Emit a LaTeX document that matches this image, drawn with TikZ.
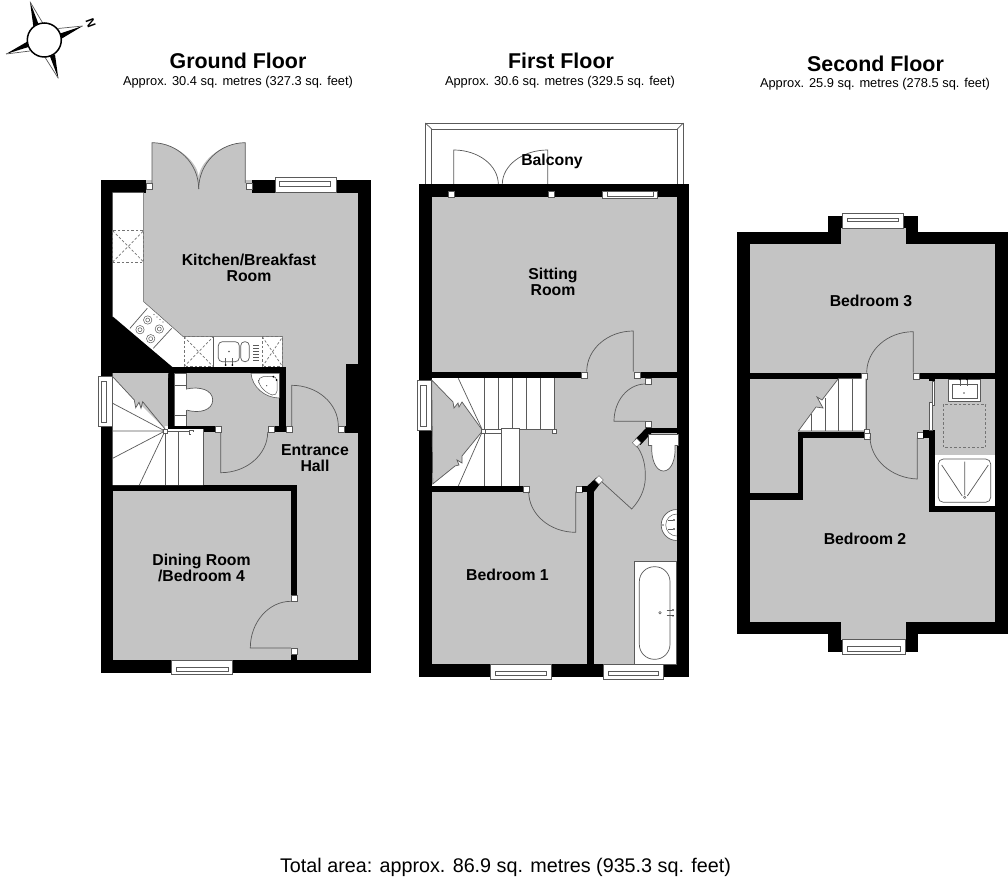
\documentclass[tikz,border=0pt]{standalone}
\usepackage{fontspec}
\setmainfont{Liberation Sans}
\usetikzlibrary{calc}
\definecolor{roomgrey}{HTML}{C4C4C4}
\definecolor{edgeln}{HTML}{5A5A5A}
\tikzset{
  ln/.style={draw=edgeln,line width=.7pt},
  dashln/.style={draw=edgeln!85,line width=.7pt,dash pattern=on 2.5pt off 2pt},
  fix/.style={fill=white,draw=edgeln,line width=.7pt},
  ttl/.style={font=\bfseries\fontsize{21.4}{23}\selectfont,anchor=center,inner sep=0pt},
  subt/.style={font=\fontsize{12.85}{14}\selectfont,anchor=center,inner sep=0pt},
  lab/.style={font=\bfseries\fontsize{15.8}{16}\selectfont,anchor=center,align=center,inner sep=0pt},
}
\newcommand\wl[4]{\fill[black] (#1,#2) rectangle (#3,#4);}
\newcommand\rmb[4]{\fill[roomgrey] (#1,#2) rectangle (#3,#4);}
\newcommand\pst[2]{\filldraw[fill=white,draw=edgeln,line width=.4pt] (#1,#2) rectangle ++(6,6);}
\newcommand\door[6]{\draw[ln] (#1,#2) -- (#3,#4) .. controls ($(#3,#4)+.5523*(#5,#6)-.5523*(#1,#2)$) and ($(#5,#6)+.5523*(#3,#4)-.5523*(#1,#2)$) .. (#5,#6);}
\newcommand\win[8]{\filldraw[fix] (#1,#2) rectangle (#3,#4); \draw[ln] (#5,#6) rectangle (#7,#8);}
\newcommand\dsq[4]{\draw[dashln] (#1,#2) rectangle (#3,#4); \draw[dashln] (#1,#2) -- (#3,#4) (#1,#4) -- (#3,#2);}
\begin{document}
\begin{tikzpicture}[x=1pt,y=-1pt]
\useasboundingbox (0,0) rectangle (1008,880);
\fill[white] (0,0) rectangle (1008,880);
% ---- compass
\fill[black] (30,1.7) -- (33.3,26) -- (38.5,24) -- cycle;
\draw[ln] (30,1.7) -- (42.7,23);
\fill[black] (82.7,26) -- (61,39) -- (60,33.5) -- cycle;
\draw[ln] (82.7,26) -- (58.3,28.5);
\fill[black] (6,54) -- (27.5,41.5) -- (28.5,47) -- cycle;
\draw[ln] (6,54) -- (30,51);
\fill[black] (58.3,78.3) -- (50,56.5) -- (55,54.5) -- cycle;
\draw[ln] (58.3,78.3) -- (45,57.3);
\filldraw[fill=white,draw=black,line width=1.5pt] (44.3,40) circle (17);
\node[rotate=-70,font=\bfseries\fontsize{12}{12}\selectfont,inner sep=0pt] (north) at (90.7,23) {N};
% ---- titles
\node[ttl] (t1) at (238,61) {Ground Floor};
\node[subt] (s1) at (238,82.5) {Approx. 30.4 sq. metres (327.3 sq. feet)};
\node[ttl] (t2) at (561,61) {First Floor};
\node[subt] (s2) at (560,82.5) {Approx. 30.6 sq. metres (329.5 sq. feet)};
\node[ttl] (t3) at (875.5,63.5) {Second Floor};
\node[subt] (s3) at (875,84.5) {Approx. 25.9 sq. metres (278.5 sq. feet)};
\node[font=\fontsize{19.75}{21}\selectfont,inner sep=0pt] (tot) at (505.5,867) {Total area: approx. 86.9 sq. metres (935.3 sq. feet)};
%
% ======== GROUND FLOOR
\wl{100.5}{180}{370.5}{672.7}
\rmb{112.7}{192.7}{358}{660}
\rmb{146}{180}{251.7}{193}
% french doors
\path[fill=roomgrey] (152,193) -- (152,142.7) .. controls (177.8,142.7) and (198.7,163.4) .. (198.7,178) .. controls (198.7,163.4) and (219.6,142.7) .. (245.3,142.7) -- (245.3,193) -- cycle;
\draw[ln] (152,183) -- (152,142.7) .. controls (177.8,142.7) and (198.7,163.4) .. (198.7,189);
\draw[ln] (245.3,183) -- (245.3,142.7) .. controls (219.6,142.7) and (198.7,163.4) .. (198.7,189);
\pst{146}{183}\pst{245.7}{183}
\win{275}{177.7}{336}{192.5}{279.3}{181.7}{330.7}{186.7}
% kitchen counter
\filldraw[fill=white,draw=edgeln,line width=.5pt] (112.7,192.7) -- (143.7,192.7) -- (143.7,301.7) -- (183.3,336.7) -- (282.7,336.7) -- (282.7,367.5) -- (172,367.5) -- (112.7,316.7) -- cycle;
\fill[black] (112.7,316.7) -- (172.3,367) -- (172.3,373.3) -- (112.7,373.3) -- cycle;
\dsq{112.7}{230.7}{143.7}{262}
\dsq{184}{336.7}{213.3}{366.7}
\dsq{262.3}{336.7}{282.7}{366.7}
\draw[ln] (213.3,336.7) -- (213.3,366.7);
% hob
\draw[ln] (130,328.3) -- (147.3,308.3) (171.7,328.3) -- (153.3,348.3);
\foreach \cx/\cy in {147.7/320,140/329.7,159.3/329,150.7/338.7}{
  \draw[ln,line width=.5pt] (\cx,\cy) circle (4.2) (\cx,\cy) circle (2);}
\foreach \cx/\cy in {154/314.5,157/317,160/319.5,163/322}{\fill[edgeln] (\cx,\cy) circle (.6);}
% sink
\draw[ln,rounded corners=4pt] (218.3,341.7) rectangle (239.3,361.7);
\draw[ln,rounded corners=4pt] (240.7,341.7) rectangle (249.3,361.7);
\foreach \yy in {345,348,351,354,357,360}{\draw[ln,line width=.4pt] (253,\yy) -- (259,\yy);}
\fill[edgeln] (229,351.5) circle (.8);
\foreach \xx in {225.7,232.3}{\draw[ln,line width=.8pt] (\xx,358) -- (\xx,364); \fill[black] (\xx,365) circle (1);}
% walls
\wl{168.3}{367.3}{285.7}{373.3}
\wl{168.3}{367.3}{174.3}{432.5}
\wl{279.3}{367.3}{285.7}{432}
\wl{174}{426}{215}{432}
\wl{273}{426}{286}{432}
\wl{346}{364.3}{358.5}{432.5}
\wl{344}{426}{346}{432.5}
\wl{112}{485}{297.3}{491}
\wl{291}{485}{297.3}{596}
\wl{291}{653}{297.3}{661}
\pst{215}{426}\pst{267.7}{426}\pst{285.7}{426}\pst{338.3}{426}
\pst{291}{595.3}\pst{291}{648}
\door{220.7}{432}{220.7}{472.7}{267.7}{432}
\door{291.7}{426}{291.7}{385.3}{338.3}{426}
\door{291}{648}{250.3}{648}{291}{601.3}
% wc
\filldraw[fix] (174.5,373.5) rectangle (186.3,426);
\draw[ln] (174.5,385) -- (186.3,385) (174.5,415) -- (186.3,415);
\filldraw[fix] (186.3,389) .. controls (200,386) and (212.7,390) .. (212.7,400) .. controls (212.7,410) and (200,414) .. (186.3,410);
\fill[white] (183,390) rectangle (187,409.5);
% corner basin
\filldraw[fill=white,draw=edgeln,line width=.6pt] (251,373.3) .. controls (252,387) and (265,398) .. (279.3,398) -- (279.3,373.3) -- cycle;
\draw[ln,line width=.5pt,rounded corners=5pt] (258,377) -- (277,376) -- (277,396) -- (268,394) -- (259,385) -- cycle;
\fill[black] (273.3,376.7) circle (1) (276.7,380) circle (1);
\fill[edgeln] (266.7,385.7) circle (.7);
% stairs
\fill[white] (112.7,376.7) -- (165,429) -- (203.3,429) -- (203.3,485) -- (112.7,485) -- cycle;
\fill[white] (112.7,426) -- (168,426) -- (168,432) -- (112.7,432) -- cycle;
\path[fill=roomgrey] (112.7,376.7) -- (134.3,400) -- (135.7,407.7) -- (139,402.3) -- (141,408.3) -- (142.7,401.7) -- (165,429) -- (168.3,373) -- (112.7,373) -- cycle;
\draw[ln] (112.7,376.7) -- (134.3,400) -- (135.7,407.7) -- (139,402.3) -- (141,408.3) -- (142.7,401.7) -- (165,429);
\draw[ln] (165,431) -- (112.7,403.3) (165,431) -- (112.7,431) (165,431) -- (112.7,458.3) (165,431) -- (139.3,485);
\draw[ln] (165.7,432) -- (165.7,485) (178.3,432) -- (178.3,485) (191,432) -- (191,485) (203.3,430) -- (203.3,485);
\draw[ln] (165,431) -- (191,431);
\filldraw[fix,line width=.4pt] (163.5,429) rectangle (167.5,433.5);
\filldraw[fix,line width=.4pt] (189,430) rectangle (193,434);
\fill[white] (191.4,432.4) rectangle (202.9,485);
\wl{174}{426}{215}{429}
\win{98.3}{376.7}{112.7}{426.7}{101}{381}{106}{422}
\win{171.7}{660}{232.7}{674}{176}{667.3}{228.3}{671.7}
\node[lab] (kit) at (249,268) {Kitchen/Breakfast\\Room};
\node[lab] (hall) at (315,458) {Entrance\\Hall};
\node[lab] (din) at (201.5,567.5) {Dining Room\\/Bedroom 4};
%
% ======== FIRST FLOOR
\draw[ln] (425.3,184.3) -- (425.3,123) -- (683.3,123) -- (683.3,184.3);
\draw[ln] (431.7,184.3) -- (431.7,129) -- (677.3,129) -- (677.3,184.3);
\draw[ln] (425.3,123) -- (431.7,129) (683.3,123) -- (677.3,129);
\door{453.7}{184.3}{453.7}{150}{498.3}{184.3}
\door{547.7}{184.3}{547.7}{150}{502.3}{184.3}
\wl{419}{184.3}{689.3}{676.7}
\rmb{431.7}{196.7}{676.7}{664}
\pst{448}{190.7}\pst{547.7}{190.7}
\win{602.3}{191}{657.7}{198}{607}{191}{653}{196.5}
% stairs
\fill[white] (431.7,377.7) rectangle (554,429.5);
\fill[white] (431.7,429) rectangle (519,486);
\path[fill=roomgrey,draw=edgeln,line width=.7pt] (431.7,380) -- (453,402) -- (454,408) -- (458,403) -- (459,407) -- (462,402) -- (482.7,430.7) -- (462,456) -- (462,463) -- (457,460) -- (459,465) -- (455,466) -- (432.7,484) -- cycle;
\draw[ln] (482.7,430.7) -- (458.3,378.3) (482.7,430.7) -- (458.3,486);
\foreach \xx in {484,498,512,526,540,554}{\draw[ln] (\xx,378) -- (\xx,429.3);}
\foreach \xx in {484,501.7,519}{\draw[ln] (\xx,430) -- (\xx,486);}
\draw[ln] (484,429.3) -- (554,429.3) (484,433) -- (501,433);
\filldraw[fix,line width=.4pt] (481.5,429.5) rectangle (485.5,433.5);
\filldraw[fix,line width=.4pt] (551.7,429) rectangle (556,433.3);
\filldraw[fix,line width=.5pt] (501.7,428.3) rectangle (519,486);
% walls
\wl{431}{371.7}{580.7}{377.7}
\wl{639.7}{371.7}{677}{377.7}
\pst{580.7}{371.7}\pst{633.7}{371.7}
\door{633.3}{371.7}{633.3}{331}{586.7}{371.7}
\wl{431}{486}{522.7}{491.7}
\pst{522.7}{485.7}\pst{575.7}{485.7}
\wl{581.7}{486}{594}{491.7}
\wl{587.3}{486}{594}{665}
\door{575.7}{491.7}{575.7}{532.3}{528.7}{491.7}
\pst{645.3}{377.7}\pst{645.3}{421.3}
\door{645.3}{421.3}{614}{421.3}{645.3}{384}
\wl{646.7}{427.5}{677}{433.3}
\fill[black] (587.3,490) -- (587.3,486) -- (596.5,477.5) -- (601,482.5) -- (594,491.7) -- cycle;
\filldraw[fill=white,draw=edgeln,line width=.4pt] (599,475.7) -- (603.3,480) -- (599,484.3) -- (594.7,480) -- cycle;
\fill[black] (646.7,427.5) -- (651.3,433.3) -- (640.5,445) -- (634.8,439.5) -- cycle;
\filldraw[fill=white,draw=edgeln,line width=.4pt] (636.7,438.4) -- (641,442.7) -- (636.7,447) -- (632.4,442.7) -- cycle;
\draw[ln] (601.7,481.7) -- (631.7,509) .. controls (642,498) and (646,486) .. (645.3,473.3) .. controls (645,462) and (642,453) .. (636.7,446);
% bathroom
\filldraw[fix] (648,434) -- (678,434) -- (678,445) -- (648,445) -- cycle;
\filldraw[fix] (651.7,445) .. controls (651,460) and (656,471) .. (663.5,471) .. controls (671,471) and (676,460) .. (675,445);
\filldraw[fix] (676.7,509.5) arc[start angle=270,end angle=90,x radius=15.5,y radius=15.5];
\draw[ln,line width=.5pt] (676.7,514) arc[start angle=270,end angle=90,x radius=11,y radius=11];
\foreach \yy in {520,529}{\draw[ln,line width=.8pt] (668,\yy) -- (673,\yy); \fill[black] (674,\yy) circle (.9);}
\fill[edgeln] (663,525) circle (.8);
\filldraw[fix] (634,561.7) rectangle (676.7,664);
\draw[ln,rounded corners=15pt] (639.3,566.7) rectangle (670,659.3);
\draw[ln,line width=.5pt] (660,612.7) circle (1.3);
\foreach \yy in {610,615.7}{\draw[ln,line width=.8pt] (666.5,\yy) -- (672,\yy); \fill[black] (673,\yy) circle (.9);}
\win{490}{664}{551.7}{679.3}{495}{671.7}{546.7}{675}
\win{603.3}{664}{663.3}{679.3}{608}{671.7}{658.5}{675}
\win{417.3}{380.7}{431.7}{430}{420.5}{385}{426}{426}
\node[lab] (bal) at (552,161.5) {Balcony};
\node[lab] (sit) at (553,281.5) {Sitting\\Room};
\node[lab] (bed1) at (507.5,574.5) {Bedroom 1};
%
% ======== SECOND FLOOR
\wl{737.3}{231.7}{1007.7}{634.3}
\wl{828.3}{215.7}{918.3}{231.7}
\wl{828.3}{634}{918.3}{652.3}
\rmb{750}{244.3}{995}{622}
\rmb{840.7}{228}{906}{245}
\rmb{840.7}{621}{906}{640}
\win{842.7}{213.3}{903.3}{228.3}{847}{218}{898.5}{221.5}
\win{842.7}{639.3}{905}{654.3}{847}{646}{900}{651}
\wl{750}{372.7}{860.7}{378.7}
\wl{919.3}{372.7}{996}{378.7}
\pst{860.7}{372.7}\pst{913.3}{372.7}
\door{913.3}{372.7}{913.3}{331.7}{866.7}{372.7}
% stairs
\path[fill=white,draw=edgeln,line width=.7pt] (838.3,378.7) -- (822,400) -- (817,397) -- (823,408) -- (816,407) -- (798.3,431) -- (866,431) -- (866,378.7);
\foreach \xx/\yt in {838.7/378.7,852.3/378.7,866/378.7,825/398,811/414}{\draw[ln] (\xx,\yt) -- (\xx,431);}
\wl{797.7}{431.5}{864.5}{437.7}
\wl{797.7}{431.5}{803.3}{500}
\wl{750}{493.3}{803.3}{500}
\filldraw[fill=white,draw=edgeln,line width=.4pt] (864.3,429) rectangle (869,433.5);
\pst{864.5}{432.7}
\door{917.3}{438.3}{917.3}{479}{870}{436.7}
\pst{917.3}{432.3}
\wl{923.3}{430}{934.7}{438.3}
\wl{928.7}{430}{934.7}{512.3}
\wl{928.7}{506}{996}{512.3}
\wl{928.7}{378.5}{934.7}{381}
\filldraw[fill=white,draw=edgeln,line width=.4pt] (931.7,381) rectangle (934.2,405);
\filldraw[fill=white,draw=edgeln,line width=.4pt] (929,402) rectangle (931.7,430);
% basin
\filldraw[fix,line width=.5pt] (948.3,379) rectangle (980.7,401.7);
\draw[ln,line width=.4pt] (951.7,384) rectangle (977,398);
\foreach \xx in {960,967}{\draw[ln,line width=.7pt] (\xx,380) -- (\xx,386);\fill[black] (\xx,379.5) circle (.8);}
\fill[edgeln] (964,393) circle (.8);
\draw[dashln] (943.3,404.3) rectangle (985.7,447.3);
% shower
\fill[white] (934.7,455) rectangle (995,506);
\draw[ln,rounded corners=5pt] (938.3,459) rectangle (990.7,502.3);
\draw[ln] (941.7,465) -- (962.3,496) (988.3,465) -- (967.3,496) (964.7,461.7) -- (964.7,495);
\draw[ln,line width=.5pt] (964.7,497.3) circle (1.2);
\node[lab] (bed3) at (871,300.5) {Bedroom 3};
\node[lab] (bed2) at (865,538.5) {Bedroom 2};
\end{tikzpicture}
\end{document}
